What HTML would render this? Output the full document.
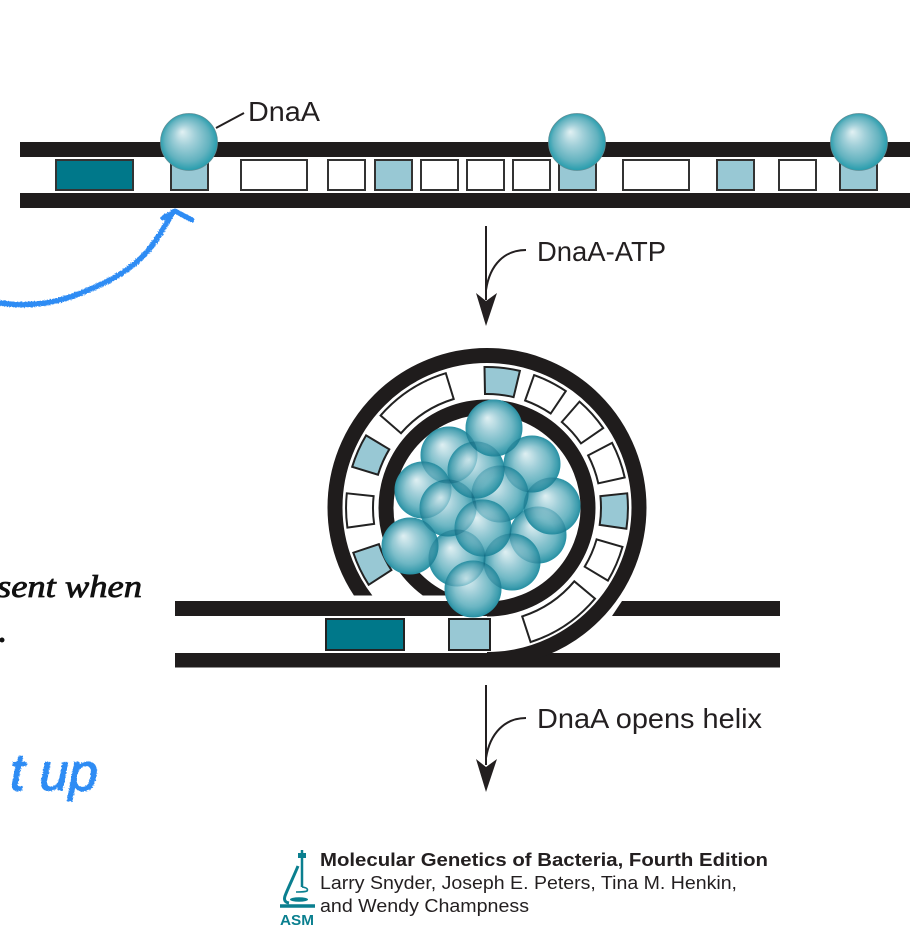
<!DOCTYPE html>
<html>
<head>
<meta charset="utf-8">
<style>
html,body{margin:0;padding:0;background:#fff}
svg{display:block;filter:blur(.35px)}
text{font-family:"Liberation Sans",sans-serif;fill:#231f20}
.m circle{mix-blend-mode:multiply}
</style>
</head>
<body>
<svg width="921" height="927" viewBox="0 0 921 927" xmlns="http://www.w3.org/2000/svg">
<defs>
<radialGradient id="s" cx="50%" cy="50%" r="52%" fx="38%" fy="32%">
<stop offset="0" stop-color="#e2f1f3"/>
<stop offset=".35" stop-color="#a2d0d9"/>
<stop offset=".75" stop-color="#62b2bf"/>
<stop offset="1" stop-color="#1f9aab"/>
</radialGradient>
<radialGradient id="b" cx="50%" cy="50%" r="52%" fx="38%" fy="32%">
<stop offset="0" stop-color="#e6f3f5"/>
<stop offset=".35" stop-color="#a8d3dc"/>
<stop offset=".75" stop-color="#6ab7c4"/>
<stop offset="1" stop-color="#35a5b5"/>
</radialGradient>
<radialGradient id="t" cx="50%" cy="50%" r="52%">
<stop offset="0" stop-color="#ffffff"/>
<stop offset=".6" stop-color="#f4fafb"/>
<stop offset=".85" stop-color="#cfe9ee"/>
<stop offset="1" stop-color="#98d4de"/>
</radialGradient>
<clipPath id="c"><path d="M300 340H680V680H487V595.5H300Z"/></clipPath>
<filter id="rough" x="-5%" y="-5%" width="110%" height="110%">
<feTurbulence type="fractalNoise" baseFrequency=".7" numOctaves="2" seed="4"/>
<feDisplacementMap in="SourceGraphic" scale="2.5"/>
</filter>
</defs>
<rect width="921" height="927" fill="#fff"/>

<!-- top DNA -->
<rect x="20" y="142" width="890" height="15" fill="#1f1c1c"/>
<rect x="20" y="193" width="890" height="15" fill="#1f1c1c"/>
<g stroke="#333" stroke-width="2">
<rect x="56" y="160" width="77" height="30" fill="#00788a"/>
<rect x="171" y="160" width="37" height="30" fill="#98c8d4"/>
<rect x="241" y="160" width="66" height="30" fill="#fff"/>
<rect x="328" y="160" width="37" height="30" fill="#fff"/>
<rect x="375" y="160" width="37" height="30" fill="#98c8d4"/>
<rect x="421" y="160" width="37" height="30" fill="#fff"/>
<rect x="467" y="160" width="37" height="30" fill="#fff"/>
<rect x="513" y="160" width="37" height="30" fill="#fff"/>
<rect x="559" y="160" width="37" height="30" fill="#98c8d4"/>
<rect x="623" y="160" width="66" height="30" fill="#fff"/>
<rect x="717" y="160" width="37" height="30" fill="#98c8d4"/>
<rect x="779" y="160" width="37" height="30" fill="#fff"/>
<rect x="840" y="160" width="37" height="30" fill="#98c8d4"/>
</g>
<g fill="url(#s)" stroke="#5f8e96" stroke-width=".8">
<circle cx="189" cy="142" r="28.5"/>
<circle cx="577" cy="142" r="28.5"/>
<circle cx="859" cy="142" r="28.5"/>
</g>
<path d="M216 128L244 113" stroke="#231f20" stroke-width="2" fill="none"/>
<text x="248" y="121" font-size="28" textLength="72" lengthAdjust="spacingAndGlyphs">DnaA</text>

<!-- arrow 1 -->
<path d="M486 226V300M526 250C505 250 490 264 486 290" stroke="#231f20" stroke-width="2" fill="none"/>
<path d="M486 326L476 293L486 301L497 293Z" fill="#231f20"/>
<text x="537" y="261" font-size="28" textLength="129" lengthAdjust="spacingAndGlyphs">DnaA-ATP</text>

<!-- middle DNA -->
<path d="M175 601H487V616H175Z" fill="#1f1c1c"/>
<path d="M612 616L622 601H780V616Z" fill="#1f1c1c"/>
<rect x="175" y="653" width="605" height="14.5" fill="#1f1c1c"/>
<g clip-path="url(#c)" fill="none" stroke="#1f1c1c" stroke-width="15">
<circle cx="487" cy="507.5" r="152"/>
<circle cx="487" cy="508" r="101"/>
</g>
<g stroke="#222" stroke-width="2" stroke-linejoin="miter">
<path d="M484.5 367A141 141 0 0 1 519.9 370.9L513.6 397.1A114 114 0 0 0 485 394Z" fill="#98c8d4"/>
<path d="M534.1 375.1A141 141 0 0 1 565.8 391.1L550.7 413.5A114 114 0 0 0 525.1 400.5Z" fill="#fff"/>
<path d="M579.5 401.6A141 141 0 0 1 603.2 428.1L581 443.4A114 114 0 0 0 561.8 422Z" fill="#fff"/>
<path d="M612.1 442.9A141 141 0 0 1 624.7 477.5L598.3 483.3A114 114 0 0 0 588.1 455.4Z" fill="#fff"/>
<path d="M627.2 493.3A141 141 0 0 1 626.4 528.8L599.7 524.9A114 114 0 0 0 600.4 496.1Z" fill="#98c8d4"/>
<path d="M622.5 546.9A141 141 0 0 1 607.9 580.6L584.7 566.7A114 114 0 0 0 596.6 539.4Z" fill="#fff"/>
<path d="M595 598.6A141 141 0 0 1 530.6 642.1L522.2 616.4A114 114 0 0 0 574.3 581.3Z" fill="#fff"/>
<path d="M380.6 415.5A141 141 0 0 1 445.8 373.2L453.7 399A114 114 0 0 0 401 433.2Z" fill="#fff"/>
<path d="M352.2 466.8A141 141 0 0 1 366.1 435.4L389.3 449.3A114 114 0 0 0 378 474.7Z" fill="#98c8d4"/>
<path d="M347.4 527.6A141 141 0 0 1 346.8 493.3L373.6 496.1A114 114 0 0 0 374.1 523.9Z" fill="#fff"/>
<path d="M368.7 584.8A141 141 0 0 1 353.3 552.7L378.9 544.2A114 114 0 0 0 391.4 570.1Z" fill="#98c8d4"/>
<rect x="326" y="619" width="78" height="31" fill="#00788a"/>
<rect x="449" y="619" width="41" height="31" fill="#98c8d4"/>
</g>

<!-- DnaA cluster: opaque spheres then a light multiply pass for translucent overlaps -->
<g fill="url(#b)">
<circle cx="538" cy="535" r="28.5"/><circle cx="512" cy="562" r="28.5"/><circle cx="457" cy="558" r="28.5"/>
<circle cx="552" cy="506" r="28.5"/><circle cx="532" cy="464" r="28.5"/><circle cx="449" cy="455" r="28.5"/>
<circle cx="423" cy="490" r="28.5"/><circle cx="448" cy="508" r="28.5"/><circle cx="500" cy="494" r="28.5"/>
<circle cx="476" cy="470" r="28.5"/><circle cx="494" cy="428" r="28.5"/><circle cx="483" cy="528" r="28.5"/>
<circle cx="473" cy="589" r="28.5"/><circle cx="410" cy="546" r="28.5"/>
</g>
<g class="m" fill="url(#t)">
<circle cx="538" cy="535" r="28.5"/><circle cx="512" cy="562" r="28.5"/><circle cx="457" cy="558" r="28.5"/>
<circle cx="552" cy="506" r="28.5"/><circle cx="532" cy="464" r="28.5"/><circle cx="449" cy="455" r="28.5"/>
<circle cx="423" cy="490" r="28.5"/><circle cx="448" cy="508" r="28.5"/><circle cx="500" cy="494" r="28.5"/>
<circle cx="476" cy="470" r="28.5"/><circle cx="494" cy="428" r="28.5"/><circle cx="483" cy="528" r="28.5"/>
<circle cx="473" cy="589" r="28.5"/><circle cx="410" cy="546" r="28.5"/>
</g>

<!-- arrow 2 -->
<path d="M486 685V765M526 718C505 718 490 733 486 758" stroke="#231f20" stroke-width="2" fill="none"/>
<path d="M486 792L476 759L486 767L497 759Z" fill="#231f20"/>
<text x="537" y="728" font-size="28" textLength="225" lengthAdjust="spacingAndGlyphs">DnaA opens helix</text>

<!-- blue annotation arrow -->
<g filter="url(#rough)" fill="none" stroke="#2f8cf4" stroke-linecap="round" stroke-linejoin="round">
<path d="M0 303C20 306 45 305 67 298C85 292 115 280 133 265C150 252 160 235 173 212" stroke-width="5.5"/>
<path d="M163 218L175 211L192 220" stroke-width="5"/>
<text x="10" y="790" font-size="52" font-style="italic" textLength="88" lengthAdjust="spacingAndGlyphs" style="fill:#2f8cf4;stroke:#2f8cf4;stroke-width:1.2">t up</text>
</g>

<!-- handwritten black -->
<text x="-3" y="597" font-size="32" font-style="italic" textLength="145" lengthAdjust="spacingAndGlyphs" style="font-family:'Liberation Serif',serif;fill:#111;stroke:#111;stroke-width:.8">sent when</text>
<circle cx="2" cy="640" r="2.5" fill="#111"/>

<!-- footer -->
<text x="320" y="866" font-size="18" font-weight="bold" textLength="448" lengthAdjust="spacingAndGlyphs">Molecular Genetics of Bacteria, Fourth Edition</text>
<text x="320" y="889" font-size="18" textLength="417" lengthAdjust="spacingAndGlyphs">Larry Snyder, Joseph E. Peters, Tina M. Henkin,</text>
<text x="320" y="912" font-size="18" textLength="209" lengthAdjust="spacingAndGlyphs">and Wendy Champness</text>

<!-- ASM logo -->
<g stroke="#0a7f8f" fill="none">
<path d="M302 850V887" stroke-width="2.5"/>
<rect x="298" y="853" width="8" height="5" fill="#0a7f8f" stroke="none"/>
<path d="M298 866C294 876 288 888 285 896Q283 902 289 903" stroke-width="3"/>
<path d="M302 887Q309 888 307 891Q305 892 296 892" stroke-width="1.6"/>
<path d="M280 906H315" stroke-width="3.5"/>
<ellipse cx="299" cy="899.5" rx="9" ry="2.3" fill="#0a7f8f" stroke="none"/>
</g>
<text x="280" y="925" font-size="15" font-weight="bold" textLength="34" lengthAdjust="spacingAndGlyphs" style="fill:#0a7f8f">ASM</text>
</svg>
</body>
</html>
